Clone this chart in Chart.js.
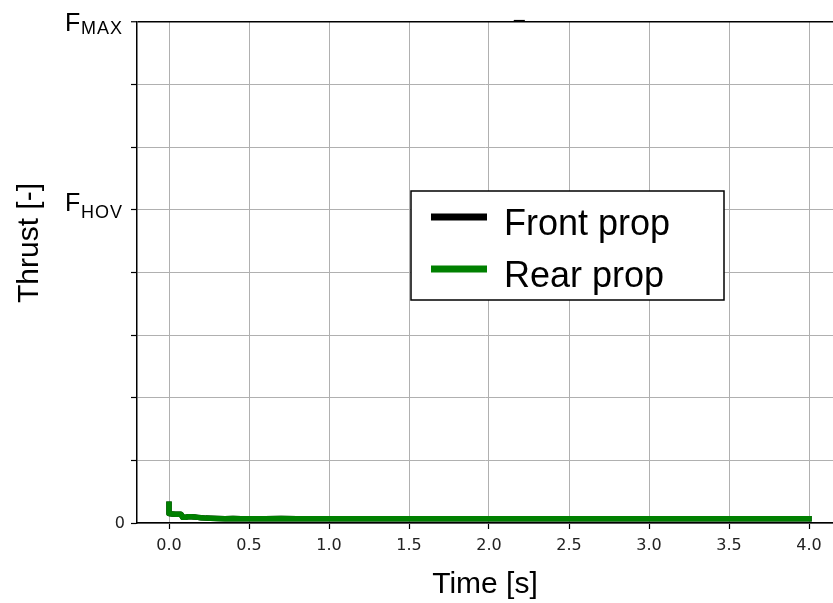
<!DOCTYPE html>
<html>
<head>
<meta charset="utf-8">
<script src="https://cdn.jsdelivr.net/npm/chart.js@4/dist/chart.umd.min.js"></script>
<style>
  html, body { margin: 0; padding: 0; background: #fff; }
  #wrap { width: 833px; height: 603px; }
</style>
</head>
<body>
<div id="wrap"><canvas id="c" width="833" height="603"></canvas></div>
<script>
// Time samples [s] and normalised thrust of both propellers
const timeS = [0, 0, 0.02, 0.04, 0.06, 0.075, 0.085, 0.1, 0.12, 0.14,
  0.16, 0.18, 0.2, 0.23, 0.26, 0.3, 0.35, 0.4, 0.45, 0.5,
  0.6, 0.7, 0.8, 0.9, 1.0, 1.2, 1.4, 1.6, 1.8, 2.0,
  2.2, 2.4, 2.6, 2.8, 3.0, 3.2, 3.4, 3.6, 3.8, 4.0];
const frontThrust = [0.30, 0.15, 0.145, 0.14, 0.14, 0.14, 0.09, 0.09, 0.10, 0.10,
  0.095, 0.09, 0.085, 0.078, 0.075, 0.072, 0.066, 0.072, 0.066, 0.068,
  0.066, 0.07, 0.066, 0.068, 0.067, 0.069, 0.066, 0.068, 0.067, 0.068,
  0.067, 0.068, 0.067, 0.068, 0.067, 0.066, 0.068, 0.067, 0.066, 0.067];
const rearThrust = [0.30, 0.15, 0.145, 0.14, 0.14, 0.14, 0.09, 0.09, 0.10, 0.10,
  0.095, 0.09, 0.085, 0.078, 0.075, 0.072, 0.066, 0.072, 0.066, 0.068,
  0.066, 0.07, 0.066, 0.068, 0.067, 0.069, 0.066, 0.068, 0.067, 0.068,
  0.067, 0.068, 0.067, 0.068, 0.067, 0.066, 0.068, 0.067, 0.066, 0.067];
const seriesNames = ['Front prop', 'Rear prop'];

// Axis ticks
const xTicks = [0, 0.5, 1.0, 1.5, 2.0, 2.5, 3.0, 3.5, 4.0];
const xTickLabels = ['0.0', '0.5', '1.0', '1.5', '2.0', '2.5', '3.0', '3.5', '4.0'];
const yTicks = [0, 1, 2, 3, 4, 5, 6, 7, 8];
const yTickMain = ['0', '', '', '', '', 'F', '', '', 'F'];
const yTickSub = ['', '', '', '', '', 'HOV', '', '', 'MAX'];

const toPoints = (xs, ys) => xs.map((x, i) => ({ x: x, y: ys[i] }));

const SANS = '"Liberation Sans", Arial, sans-serif';
const TICKFONT = '"DejaVu Sans", sans-serif';

// y tick labels with subscripts, axis titles, header dash and boxed legend
const decorations = {
  id: 'decorations',
  afterDraw(chart) {
    const ctx = chart.ctx;
    const ys = chart.scales.y;
    const xs = chart.scales.x;
    ctx.save();
    ctx.fillStyle = '#000';
    yTicks.forEach((v, i) => {
      const py = ys.getPixelForValue(v);
      if (yTickSub[i] === '') {
        if (yTickMain[i] !== '') {
          ctx.font = '16px ' + TICKFONT;
          ctx.fillStyle = '#222';
          ctx.textAlign = 'right';
          ctx.textBaseline = 'middle';
          ctx.fillText(yTickMain[i], 125, py + 1);
          ctx.fillStyle = '#000';
        }
        return;
      }
      // subscripted force labels: top one centred on its tick, lower one resting on it
      const top = (v === ys.max);
      const mainBase = top ? py + 9 : py + 1;
      const subBase = top ? py + 12 : py + 8;
      ctx.textAlign = 'left';
      ctx.textBaseline = 'alphabetic';
      ctx.font = '25px ' + SANS;
      ctx.fillText(yTickMain[i], 65, mainBase);
      ctx.font = '18px ' + SANS;
      ctx.letterSpacing = '1px';
      ctx.fillText(yTickSub[i], 81, subBase);
      ctx.letterSpacing = '0px';
    });

    // axis titles
    ctx.font = '30px ' + SANS;
    ctx.textAlign = 'center';
    ctx.textBaseline = 'alphabetic';
    ctx.fillText('Time [s]', 485, 593);
    ctx.save();
    ctx.translate(38, 243);
    ctx.rotate(-Math.PI / 2);
    ctx.fillText('Thrust [-]', 0, 0);
    ctx.restore();

    // header dash
    ctx.font = '20px ' + SANS;
    ctx.fillText('\u2013', xs.getPixelForValue(2.19), 26);

    // legend box
    const bx = 411, by = 191, bw = 313, bh = 109;
    ctx.fillStyle = '#fff';
    ctx.fillRect(bx, by, bw, bh);
    ctx.strokeStyle = '#000';
    ctx.lineWidth = 1.5;
    ctx.strokeRect(bx, by, bw, bh);
    chart.data.datasets.forEach((ds, i) => {
      const cy = 217 + i * 52;
      ctx.strokeStyle = ds.borderColor;
      ctx.lineWidth = 7;
      ctx.lineCap = 'butt';
      ctx.beginPath();
      ctx.moveTo(431, cy);
      ctx.lineTo(487, cy);
      ctx.stroke();
      ctx.fillStyle = '#000';
      ctx.font = '36px ' + SANS;
      ctx.textAlign = 'left';
      ctx.textBaseline = 'alphabetic';
      ctx.fillText(ds.label, 504, cy + 18);
    });
    ctx.restore();
  }
};

new Chart(document.getElementById('c'), {
  type: 'line',
  data: {
    datasets: [
      {
        label: seriesNames[0],
        data: toPoints(timeS, frontThrust),
        borderColor: '#000000',
        borderWidth: 5.5,
        pointRadius: 0,
        tension: 0,
        borderCapStyle: 'square',
        borderJoinStyle: 'round',
        order: 2
      },
      {
        label: seriesNames[1],
        data: toPoints(timeS, rearThrust),
        borderColor: '#008000',
        borderWidth: 5.5,
        pointRadius: 0,
        tension: 0,
        borderCapStyle: 'square',
        borderJoinStyle: 'round',
        order: 1
      }
    ]
  },
  options: {
    responsive: false,
    animation: false,
    events: [],
    layout: { padding: { top: 22, right: 0, bottom: 0, left: 0 } },
    plugins: {
      legend: { display: false },
      title: { display: false },
      tooltip: { enabled: false }
    },
    scales: {
      x: {
        type: 'linear',
        min: -0.2,
        max: 4.15,
        afterBuildTicks: (s) => { s.ticks = xTicks.map(v => ({ value: v })); },
        afterFit: (s) => { s.height = 80; },
        ticks: {
          autoSkip: false,
          maxRotation: 0,
          padding: 7,
          color: '#222',
          font: { family: '"DejaVu Sans", sans-serif', size: 16 },
          callback: (v) => {
            const i = xTicks.indexOf(v);
            return i >= 0 ? xTickLabels[i] : '';
          }
        },
        grid: {
          color: '#b0b0b0',
          lineWidth: 1,
          tickColor: '#000',
          tickLength: 6,
          tickWidth: 1.2
        },
        border: { color: '#000', width: 1.5 }
      },
      y: {
        type: 'linear',
        min: 0,
        max: 8,
        afterBuildTicks: (s) => { s.ticks = yTicks.map(v => ({ value: v })); },
        afterFit: (s) => { s.width = 137; },
        ticks: {
          autoSkip: false,
          padding: 6,
          callback: () => ''
        },
        grid: {
          color: (c) => (c.tick && c.tick.value === 8 ? '#000' : '#b0b0b0'),
          lineWidth: (c) => (c.tick && c.tick.value === 8 ? 1.5 : 1),
          tickColor: '#000',
          tickLength: 6,
          tickWidth: 1.2
        },
        border: { color: '#000', width: 1.5 }
      }
    }
  },
  plugins: [decorations]
});
</script>
</body>
</html>
